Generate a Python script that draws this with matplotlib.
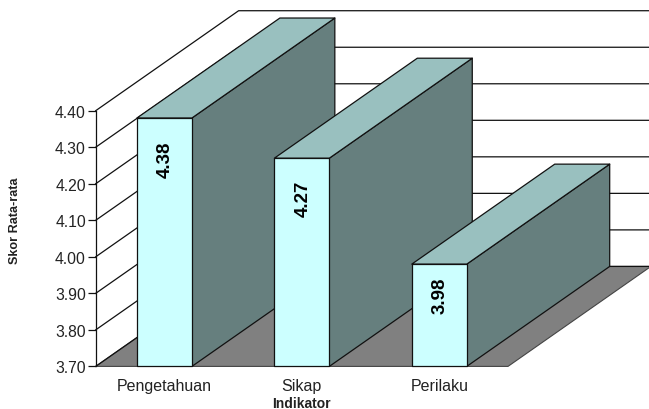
import matplotlib
matplotlib.use("Agg")
import matplotlib.pyplot as plt
from matplotlib.patches import Polygon

categories = ["Pengetahuan", "Sikap", "Perilaku"]
scores = [4.38, 4.27, 3.98]
score_labels = ["4.38", "4.27", "3.98"]
y_ticks = [3.70, 3.80, 3.90, 4.00, 4.10, 4.20, 4.30, 4.40]
y_tick_labels = ["3.70", "3.80", "3.90", "4.00", "4.10", "4.20", "4.30", "4.40"]

# oblique offset of the back plane, in data units
DEPTH_X = 1.04
DEPTH_Y = 0.2737
BAR_W = 0.40
BASE = 3.70
# gap between bar top and its label, in points
LABEL_GAP = [16, 15.5, 9]

FRONT = "#ccffff"
TOP = "#99c0bf"
SIDE = "#667f7e"
FLOOR = "#808080"
LINE = "#111111"

plt.rcParams["font.family"] = ["Liberation Sans", "DejaVu Sans"]

W, H = 649, 410
fig = plt.figure(figsize=(W / 100, H / 100), dpi=100)
# axes box is the front plane of the chart
ax = fig.add_axes([95.7 / W, 1 - 367.4 / H, 412.3 / W, 255.7 / H])
ax.set_xlim(0, 3)
ax.set_ylim(BASE, 4.40)
ax.patch.set_visible(False)
for s in ["top", "right", "bottom"]:
    ax.spines[s].set_visible(False)
ax.spines["left"].set_linewidth(0.9)
ax.spines["left"].set_color(LINE)

ax.set_yticks(y_ticks)
ax.set_yticklabels(y_tick_labels, fontsize=11.3, color="#222222")
ax.tick_params(axis="y", length=6, width=0.9, color=LINE, pad=1)
ax.set_xticks([i + 0.5 for i in range(len(categories))])
ax.set_xticklabels(categories, fontsize=11.5, color="#222222")
ax.tick_params(axis="x", length=0, pad=8)


def face(pts, color, z, edge=LINE, lw=0.9):
    ax.add_patch(Polygon(pts, closed=True, facecolor=color, edgecolor=edge,
                         linewidth=lw, zorder=z, clip_on=False, joinstyle="round"))


# floor
face([(0, BASE), (3, BASE), (3 + DEPTH_X, BASE + DEPTH_Y), (DEPTH_X, BASE + DEPTH_Y)],
     FLOOR, 1, edge="#444444", lw=0.8)

# walls: diagonal on the left side, horizontal on the back
for v in y_ticks:
    ax.plot([0, DEPTH_X, 3 + DEPTH_X], [v, v + DEPTH_Y, v + DEPTH_Y],
            color=LINE, lw=0.9, zorder=2, clip_on=False)

for i, (val, lab) in enumerate(zip(scores, score_labels)):
    x0 = i + 0.5 - BAR_W / 2
    x1 = x0 + BAR_W
    z = 3 + i
    face([(x1, BASE), (x1 + DEPTH_X, BASE + DEPTH_Y), (x1 + DEPTH_X, val + DEPTH_Y), (x1, val)], SIDE, z)
    face([(x0, val), (x1, val), (x1 + DEPTH_X, val + DEPTH_Y), (x0 + DEPTH_X, val + DEPTH_Y)], TOP, z)
    face([(x0, BASE), (x1, BASE), (x1, val), (x0, val)], FRONT, z)
    ax.annotate(lab, (i + 0.5, val), xytext=(0.7, -LABEL_GAP[i]), textcoords="offset points",
                rotation=90, ha="center", va="top", fontsize=13.5,
                fontweight="bold", color="black", zorder=z + 1)

fig.text(15.5 / W, 1 - 221 / H, "Skor Rata-rata", rotation=90, ha="center", va="center",
         fontsize=9.1, fontweight="bold", color="#222222")
fig.text(301.5 / W, 1 - 404.5 / H, "Indikator", ha="center", va="center",
         fontsize=10, fontweight="bold", color="#222222")

fig.savefig("out.png", dpi=100)
